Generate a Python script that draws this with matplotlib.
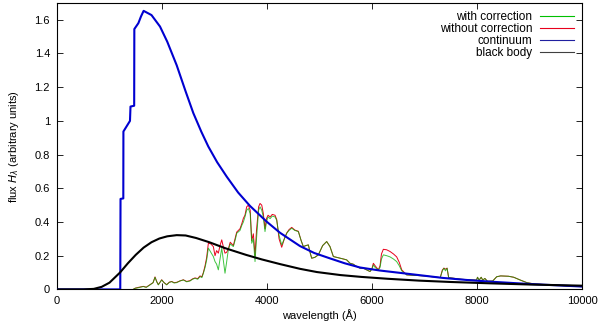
import matplotlib
matplotlib.use("Agg")
import matplotlib.pyplot as plt

plt.rcParams['font.family'] = ['Liberation Sans', 'DejaVu Sans']
plt.rcParams['mathtext.fontset'] = 'dejavusans'

# continuum (blue)
cont_wl = [0, 1205, 1210, 1263, 1265, 1390, 1400, 1470, 1473, 1550, 1600, 1650,
           1800, 1962, 2100, 2280, 2450, 2597, 2750, 2882, 3050, 3233, 3450, 3677,
           3994, 4248, 4629, 4900, 5200, 5480, 5771, 6150, 6591, 7000, 7352, 7800,
           8248, 9000, 10000]
cont_flux = [0, 0, 0.537, 0.54, 0.937, 1.0, 1.085, 1.09, 1.545, 1.58, 1.62, 1.653,
             1.628, 1.56, 1.47, 1.33, 1.175, 1.046, 0.935, 0.848, 0.755, 0.669, 0.575, 0.495,
             0.402, 0.336, 0.257, 0.216, 0.184, 0.155, 0.13, 0.112, 0.096, 0.081, 0.068, 0.056,
             0.046, 0.032, 0.017]

# black body
bb_wl = [0, 500, 700, 850, 1000, 1200, 1350, 1500, 1650, 1800, 1950, 2100, 2280,
         2450, 2650, 2900, 3200, 3600, 3900, 4250, 4629, 4950, 5400, 5800, 6300,
         6900, 7500, 8250, 9000, 10000]
bb_flux = [0, 0, 0.003, 0.015, 0.04, 0.1, 0.155, 0.205, 0.248, 0.28, 0.302, 0.315, 0.322,
           0.32, 0.305, 0.28, 0.245, 0.205, 0.178, 0.15, 0.122, 0.103, 0.085, 0.074, 0.063,
           0.052, 0.044, 0.036, 0.029, 0.022]

# model spectra, with and without correction
spec_wl = [1450, 1490, 1550, 1644, 1700, 1772, 1830, 1867, 1900, 1930, 1994, 2040,
           2089, 2140, 2185, 2230, 2280, 2340, 2407, 2470, 2534, 2580, 2629, 2680,
           2724, 2760, 2788, 2820, 2851, 2883, 2930, 2978, 3010, 3040, 3073, 3105,
           3138, 3170, 3200, 3230, 3263, 3300, 3359, 3400, 3423, 3486, 3520, 3550,
           3580, 3613, 3645, 3680, 3709, 3740, 3772, 3800, 3840, 3867, 3900, 3930,
           3962, 3990, 4020, 4060, 4100, 4153, 4185, 4230, 4280, 4330, 4376, 4420,
           4471, 4530, 4597, 4650, 4692, 4740, 4788, 4820, 4851, 4910, 4978, 5060,
           5137, 5200, 5264, 5330, 5391, 5460, 5518, 5581, 5640, 5708, 5772, 5840,
           5899, 5962, 6000, 6026, 6060, 6121, 6153, 6180, 6216, 6280, 6343, 6410,
           6470, 6520, 6566, 6661, 7000, 7300, 7340, 7370, 7400, 7430, 7460, 7700,
           7990, 8010, 8040, 8080, 8110, 8150, 8200, 8300, 8375, 8450, 8600, 8700,
           8820, 8950, 9100, 9500, 10000]
with_corr = [0, 0.007, 0.01, 0.017, 0.012, 0.027, 0.04, 0.072, 0.045, 0.027, 0.056, 0.04,
             0.027, 0.042, 0.046, 0.038, 0.04, 0.05, 0.056, 0.045, 0.05, 0.06, 0.066, 0.06,
             0.076, 0.07, 0.096, 0.13, 0.175, 0.245, 0.22, 0.195, 0.165, 0.15, 0.116, 0.18,
             0.245, 0.17, 0.096, 0.16, 0.235, 0.27, 0.254, 0.3, 0.333, 0.35, 0.38, 0.40,
             0.43, 0.47, 0.48, 0.45, 0.274, 0.3, 0.165, 0.3, 0.47, 0.49, 0.47, 0.43,
             0.343, 0.4, 0.43, 0.42, 0.435, 0.43, 0.41, 0.32, 0.264, 0.3, 0.333, 0.35,
             0.363, 0.35, 0.343, 0.29, 0.254, 0.26, 0.264, 0.22, 0.185, 0.19, 0.205, 0.26,
             0.284, 0.254, 0.195, 0.19, 0.185, 0.18, 0.175, 0.155, 0.15, 0.136, 0.126, 0.125,
             0.116, 0.106, 0.12, 0.145, 0.13, 0.116, 0.13, 0.18, 0.205, 0.2, 0.193, 0.18,
             0.165, 0.14, 0.11, 0.086, 0.08, 0.07, 0.11, 0.126, 0.11, 0.126, 0.07, 0.06,
             0.055, 0.072, 0.055, 0.072, 0.055, 0.065, 0.048, 0.05, 0.075, 0.08, 0.078, 0.072,
             0.056, 0.04, 0.032, 0.025, 0.016]
without_corr = [0, 0.007, 0.012, 0.018, 0.013, 0.028, 0.04, 0.074, 0.046, 0.028, 0.057, 0.04,
                0.028, 0.043, 0.047, 0.04, 0.042, 0.05, 0.057, 0.047, 0.052, 0.062, 0.068, 0.064,
                0.08, 0.075, 0.1, 0.14, 0.19, 0.274, 0.27, 0.254, 0.2, 0.23, 0.215, 0.26,
                0.294, 0.25, 0.215, 0.22, 0.24, 0.28, 0.26, 0.31, 0.34, 0.36, 0.39, 0.422,
                0.44, 0.49, 0.50, 0.47, 0.29, 0.33, 0.2, 0.35, 0.49, 0.51, 0.50, 0.45,
                0.36, 0.42, 0.44, 0.43, 0.445, 0.44, 0.415, 0.3, 0.25, 0.3, 0.335, 0.355,
                0.368, 0.352, 0.345, 0.29, 0.254, 0.26, 0.264, 0.22, 0.185, 0.19, 0.205, 0.26,
                0.284, 0.254, 0.195, 0.19, 0.185, 0.18, 0.175, 0.155, 0.15, 0.136, 0.126, 0.125,
                0.116, 0.106, 0.125, 0.155, 0.14, 0.116, 0.14, 0.21, 0.238, 0.235, 0.225, 0.21,
                0.193, 0.16, 0.116, 0.086, 0.08, 0.07, 0.115, 0.126, 0.12, 0.126, 0.07, 0.06,
                0.055, 0.072, 0.055, 0.072, 0.055, 0.065, 0.048, 0.05, 0.075, 0.08, 0.078, 0.072,
                0.056, 0.04, 0.032, 0.025, 0.016]

x_ticks = [0, 2000, 4000, 6000, 8000, 10000]
y_ticks = [0, 0.2, 0.4, 0.6, 0.8, 1, 1.2, 1.4, 1.6]
y_tick_labels = ['0', '0.2', '0.4', '0.6', '0.8', '1', '1.2', '1.4', '1.6']

fig = plt.figure(figsize=(6, 3.27), dpi=100)
ax = fig.add_axes([0.095, 0.115, 0.875, 0.876])

ax.plot(spec_wl, without_corr, color='#e8001c', lw=0.7, zorder=2)
ax.plot(spec_wl, with_corr, color='#00b000', lw=0.7, alpha=0.75, zorder=3)
ax.plot(cont_wl, cont_flux, color='#0000d0', lw=1.5, zorder=4)
ax.plot(bb_wl, bb_flux, color='black', lw=1.5, zorder=4)

# legend drawn with proxy lines so it matches the thin gnuplot keys
ax.plot([], [], color='#00c000', lw=0.8, label='with correction')
ax.plot([], [], color='#e8001c', lw=0.8, label='without correction')
ax.plot([], [], color='#2020a0', lw=0.8, label='continuum')
ax.plot([], [], color='#404040', lw=0.8, label='black body')
handles, labels = ax.get_legend_handles_labels()
leg = ax.legend(handles[-4:], labels[-4:], loc='upper right', frameon=False,
                markerfirst=False, fontsize=8.5, handlelength=2.9, handletextpad=0.6,
                labelspacing=0.0, borderaxespad=0.3)
for t in leg.get_texts():
    t.set_ha('right')
leg._legend_box.align = 'right'

ax.set_xlim(0, 10000)
ax.set_ylim(0, 1.7)
ax.set_xticks(x_ticks)
ax.set_xticklabels([str(v) for v in x_ticks])
ax.set_yticks(y_ticks)
ax.set_yticklabels(y_tick_labels)
ax.tick_params(direction='in', top=True, right=True, length=4, width=0.6,
               labelsize=8, pad=5)
for s in ax.spines.values():
    s.set_linewidth(0.8)

ax.set_xlabel('wavelength (Å)', fontsize=8, labelpad=2)
ax.set_ylabel(r'flux $H_\lambda$ (arbitrary units)', fontsize=8, labelpad=10)

fig.savefig('out.png', dpi=100)
